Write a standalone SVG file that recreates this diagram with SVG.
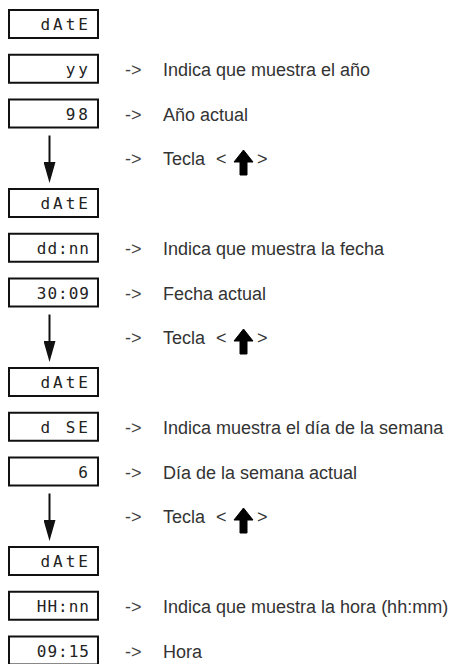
<svg xmlns="http://www.w3.org/2000/svg" xmlns:xlink="http://www.w3.org/1999/xlink" width="450" height="664" viewBox="0 0 450 664">
<style>
.box{fill:#fff;stroke:#111;stroke-width:2}
.seg{font-family:"DejaVu Sans Mono",monospace;font-size:16px;fill:#222;text-anchor:end;letter-spacing:3px}
.seg5{letter-spacing:1px}
.arr{font-family:"Liberation Sans",Arial,sans-serif;font-size:18px;fill:#444}
.lbl{font-family:"Liberation Sans",Arial,sans-serif;font-size:18px;fill:#333}
.conn{stroke:#111;stroke-width:2;fill:none}
</style>
<defs>
<marker id="head" markerUnits="userSpaceOnUse" markerWidth="21" markerHeight="12" viewBox="0 0 21 12" refX="15" refY="6" orient="auto">
<path d="M0,0 L21,6 L0,12 Z" fill="#111"/>
</marker>
<path id="up" d="M0,0 L9.5,12 L3.5,12 L3.5,25 L-3.5,25 L-3.5,12 L-9.5,12 Z" fill="#000" stroke="#000" stroke-width="1" stroke-linejoin="round"/>
</defs>

<g id="connectors">
<line class="conn" x1="49.5" y1="135.5" x2="49.5" y2="177" marker-end="url(#head)"/>
<line class="conn" x1="49.5" y1="314.5" x2="49.5" y2="356" marker-end="url(#head)"/>
<line class="conn" x1="49.5" y1="493.5" x2="49.5" y2="535" marker-end="url(#head)"/>
</g>

<g id="n-date1"><rect class="box" x="9" y="10" width="89" height="28"/><text class="seg" x="91" y="30">dAtE</text></g>
<g id="n-yy"><rect class="box" x="9" y="54.75" width="89" height="28"/><text class="seg" x="91" y="74.75">yy</text>
<text class="arr" x="125" y="75.75">-&gt;</text><text class="lbl" x="163" y="75.75">Indica que muestra el año</text></g>
<g id="n-98"><rect class="box" x="9" y="99.5" width="89" height="28"/><text class="seg" x="91" y="119.5">98</text>
<text class="arr" x="125" y="120.5">-&gt;</text><text class="lbl" x="163" y="120.5">Año actual</text></g>
<g id="t-tecla1"><text class="arr" x="125" y="165.25">-&gt;</text><text class="lbl" x="163" y="165.25">Tecla</text><text class="lbl" x="216" y="165.25">&lt;</text><use xlink:href="#up" x="243.5" y="150"/><text class="lbl" x="257" y="165.25">&gt;</text></g>

<g id="n-date2"><rect class="box" x="9" y="189" width="89" height="28"/><text class="seg" x="91" y="209">dAtE</text></g>
<g id="n-ddnn"><rect class="box" x="9" y="233.75" width="89" height="28"/><text class="seg seg5" x="90" y="253.75">dd:nn</text>
<text class="arr" x="125" y="254.75">-&gt;</text><text class="lbl" x="163" y="254.75">Indica que muestra la fecha</text></g>
<g id="n-3009"><rect class="box" x="9" y="278.5" width="89" height="28"/><text class="seg seg5" x="90" y="298.5">30:09</text>
<text class="arr" x="125" y="299.5">-&gt;</text><text class="lbl" x="163" y="299.5">Fecha actual</text></g>
<g id="t-tecla2"><text class="arr" x="125" y="344.25">-&gt;</text><text class="lbl" x="163" y="344.25">Tecla</text><text class="lbl" x="216" y="344.25">&lt;</text><use xlink:href="#up" x="243.5" y="329"/><text class="lbl" x="257" y="344.25">&gt;</text></g>

<g id="n-date3"><rect class="box" x="9" y="368" width="89" height="28"/><text class="seg" x="91" y="388">dAtE</text></g>
<g id="n-dse"><rect class="box" x="9" y="412.75" width="89" height="28"/><text class="seg" x="91" y="432.75">d SE</text>
<text class="arr" x="125" y="433.75">-&gt;</text><text class="lbl" x="163" y="433.75">Indica muestra el día de la semana</text></g>
<g id="n-6"><rect class="box" x="9" y="457.5" width="89" height="28"/><text class="seg" x="91" y="477.5">6</text>
<text class="arr" x="125" y="478.5">-&gt;</text><text class="lbl" x="163" y="478.5">Día de la semana actual</text></g>
<g id="t-tecla3"><text class="arr" x="125" y="523.25">-&gt;</text><text class="lbl" x="163" y="523.25">Tecla</text><text class="lbl" x="216" y="523.25">&lt;</text><use xlink:href="#up" x="243.5" y="508"/><text class="lbl" x="257" y="523.25">&gt;</text></g>

<g id="n-date4"><rect class="box" x="9" y="547" width="89" height="28"/><text class="seg" x="91" y="567">dAtE</text></g>
<g id="n-hhnn"><rect class="box" x="9" y="591.75" width="89" height="28"/><text class="seg seg5" x="90" y="611.75">HH:nn</text>
<text class="arr" x="125" y="612.75">-&gt;</text><text class="lbl" x="163" y="612.75">Indica que muestra la hora (hh:mm)</text></g>
<g id="n-0915"><rect class="box" x="9" y="636.5" width="89" height="28"/><text class="seg seg5" x="90" y="656.5">09:15</text>
<text class="arr" x="125" y="657.5">-&gt;</text><text class="lbl" x="163" y="657.5">Hora</text></g>
</svg>
